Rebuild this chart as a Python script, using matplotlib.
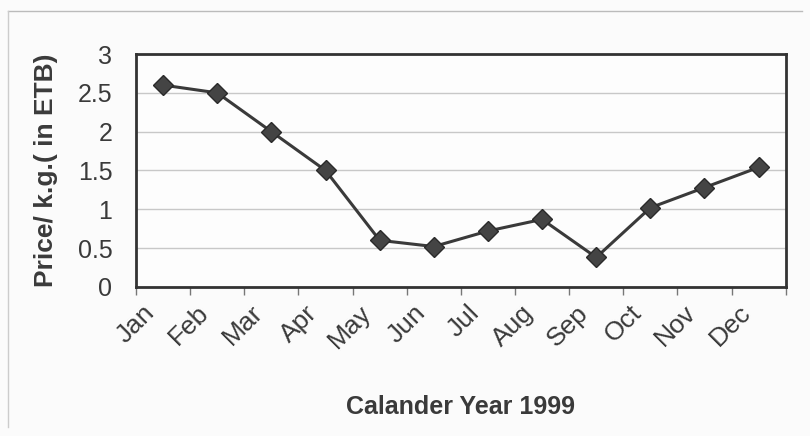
import matplotlib
matplotlib.use("Agg")
import matplotlib.pyplot as plt
import matplotlib.transforms as mtransforms
import numpy as np

months = ["Jan", "Feb", "Mar", "Apr", "May", "Jun",
          "Jul", "Aug", "Sep", "Oct", "Nov", "Dec"]
price = [2.6, 2.5, 2.0, 1.5, 0.6, 0.52, 0.72, 0.87, 0.38, 1.02, 1.28, 1.54]
y_ticks = [0, 0.5, 1, 1.5, 2, 2.5, 3]
y_tick_labels = ["0", "0.5", "1", "1.5", "2", "2.5", "3"]

plt.rcParams["font.family"] = ["Liberation Sans", "DejaVu Sans"]
ink = "#3a3a3a"

fig = plt.figure(figsize=(8.1, 4.36), dpi=100, facecolor="#fbfbfb")
ax = fig.add_axes([0.168, 0.342, 0.802, 0.534])
ax.set_facecolor("#fdfdfd")

x = np.arange(len(months))
ax.plot(x, price, color=ink, lw=2.2, marker="D", ms=10,
        mfc="#444444", mec="#2a2a2a", mew=1.0, zorder=3)

ax.set_xlim(-0.5, len(months) - 0.5)
ax.set_ylim(0, 3)
ax.set_yticks(y_ticks)
ax.set_yticklabels(y_tick_labels)
ax.yaxis.grid(True, color="#c8c8c8", lw=1.0)
ax.set_axisbelow(True)
ax.tick_params(axis="y", length=0, pad=17, labelsize=18, labelcolor=ink)

# category boundaries carry the tick marks, labels sit at category centres
ax.set_xticks(np.arange(-0.5, len(months), 1.0))
ax.set_xticklabels([])
ax.set_xticks(x, minor=True)
ax.set_xticklabels(months, minor=True, rotation=45, ha="right", va="center",
                   rotation_mode="anchor", fontsize=19, color=ink)
ax.tick_params(axis="x", which="major", length=6, color="#777777", width=1)
ax.tick_params(axis="x", which="minor", length=0, pad=16)
shift = mtransforms.ScaledTranslation(-12 / 100, 0, fig.dpi_scale_trans)
for lbl in ax.get_xticklabels(minor=True):
    lbl.set_transform(lbl.get_transform() + shift)

for s in ax.spines.values():
    s.set_color("#333333")
    s.set_linewidth(2.0)

ax.set_ylabel("Price/ k.g.( in ETB)", fontsize=19, fontweight="bold",
              color=ink, labelpad=14)
ax.set_xlabel("Calander Year 1999", fontsize=18, fontweight="bold",
              color=ink, labelpad=30)

# outer chart border
fig.add_artist(plt.Line2D([0.01, 0.99], [0.975, 0.975], color="#bbbbbb", lw=1))
fig.add_artist(plt.Line2D([0.01, 0.01], [0.02, 0.975], color="#cccccc", lw=1))

fig.savefig("out.png", dpi=100, facecolor=fig.get_facecolor())
